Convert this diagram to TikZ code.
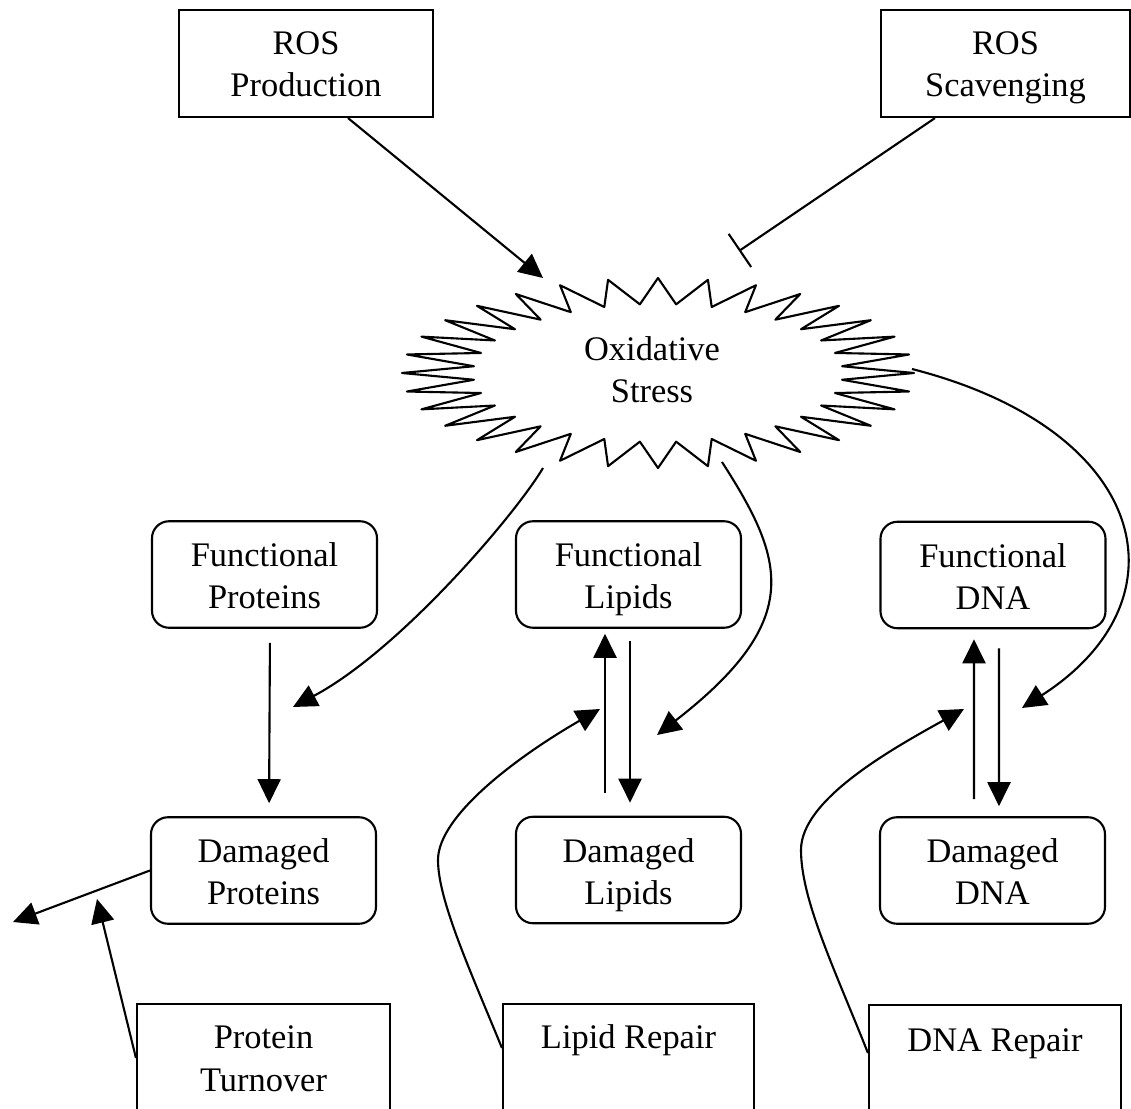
\documentclass[tikz,border=0pt]{standalone}
\usepackage{fontspec}
\setmainfont{Liberation Serif}
\usepackage{tikz}
\usetikzlibrary{arrows.meta,positioning,calc}
\tikzset{
  srcbox/.style  = {draw, rectangle, line width=0.6pt, inner sep=0pt,
                    text height=0.87cm, text depth=0.20cm, align=center},
  poolbox/.style = {draw, rectangle, rounded corners=0.17cm, line width=0.6pt,
                    inner sep=0pt, minimum width=2.25cm,
                    text height=0.875cm, text depth=0.19cm, align=center},
  repbox/.style  = {draw, rectangle, line width=0.6pt, anchor=north,
                    inner ysep=0pt, text depth=0.8cm, align=center},
  sig/.style     = {-{Triangle[length=0.24cm,width=0.23cm]}, line width=0.6pt},
  inhib/.style   = {-{Bar[width=0.4cm,line width=0.6pt]}, line width=0.6pt},
}
\begin{document}
\begin{tikzpicture}[x=1cm,y=1cm,font={\fontsize{9.8pt}{12pt}\selectfont}]
\useasboundingbox (0,0) rectangle (11.31,-11.09);
% sources of ROS
\node[srcbox, minimum width=2.54cm] (prod) at (3.06,-0.635) {ROS\\Production};
\node[srcbox, minimum width=2.49cm] (scav) at (10.055,-0.635) {ROS\\Scavenging};
% oxidative stress burst
\coordinate (burst) at (6.58,-3.73);
\node[align=center, anchor=base] (stress) at (6.52,-4.03) {Oxidative\\Stress};
\draw[line width=0.6pt, line join=round, shift={(burst)}] (0:2.56 and 0.95)
  \foreach \k in {1,...,32} { -- ({\k*11.25-5.625}:1.85 and 0.69) -- ({\k*11.25}:2.56 and 0.95) } -- cycle;
% functional and damaged pools
\node[poolbox] (fprot) at (2.645,-5.745) {Functional\\Proteins};
\node[poolbox] (flip)  at (6.285,-5.745) {Functional\\Lipids};
\node[poolbox] (fdna)  at (9.93,-5.75)   {Functional\\DNA};
\node[poolbox] (dprot) at (2.635,-8.705) {Damaged\\Proteins};
\node[poolbox] (dlip)  at (6.285,-8.70)  {Damaged\\Lipids};
\node[poolbox] (ddna)  at (9.925,-8.705) {Damaged\\DNA};
% repair boxes, cut by the bottom edge
\node[repbox, minimum width=2.53cm, text height=0.87cm] (turn) at (2.635,-10.03) {Protein\\Turnover};
\node[repbox, minimum width=2.51cm, text height=0.44cm] (lrep) at (6.285,-10.03) {Lipid Repair};
\node[repbox, minimum width=2.52cm, text height=0.46cm] (drep) at (9.95,-10.04)  {DNA Repair};
% free ends of connectors
\coordinate (prodtip)  at (5.43,-2.78);
\coordinate (scavbar)  at (7.39,-2.51);
\coordinate (stressbl) at (5.43,-4.68);
\coordinate (stressbm) at (7.22,-4.62);
\coordinate (stressr)  at (9.12,-3.69);
\coordinate (protdmg)  at (2.93,-7.07);
\coordinate (lipdmg)   at (6.57,-7.35);
\coordinate (dnadmg)   at (10.22,-7.08);
\coordinate (liprep)   at (6.00,-7.09);
\coordinate (dnarep)   at (9.64,-7.09);
\coordinate (turnend)  at (0.97,-8.99);
\coordinate (protout)  at (0.13,-9.22);
% production and scavenging
\draw[sig] ([xshift=0.42cm]prod.south) -- (prodtip);
\draw[inhib] ([xshift=-0.705cm]scav.south) -- (scavbar);
% damage from oxidative stress
\draw[sig] (stressbl) .. controls (5.15,-5.15) and (4.00,-6.50) .. (protdmg);
\draw[sig] (stressbm) .. controls (7.85,-5.60) and (8.05,-6.20) .. (lipdmg);
\draw[sig] (stressr) .. controls (11.50,-4.30) and (11.90,-6.00) .. (dnadmg);
% functional <-> damaged
\draw[sig, shorten <=0.14cm, shorten >=0.13cm] ([xshift=0.055cm]fprot.south) -- ([xshift=0.055cm]dprot.north);
\draw[sig, shorten <=0.23cm, shorten >=0.05cm] ([xshift=-0.235cm]dlip.north) -- ([xshift=-0.235cm]flip.south);
\draw[sig, shorten <=0.12cm, shorten >=0.13cm] ([xshift=0.015cm]flip.south) -- ([xshift=0.015cm]dlip.north);
\draw[sig, shorten <=0.17cm, shorten >=0.10cm] ([xshift=-0.185cm]ddna.north) -- ([xshift=-0.19cm]fdna.south);
\draw[sig, shorten <=0.19cm, shorten >=0.10cm] ([xshift=0.06cm]fdna.south) -- ([xshift=0.065cm]ddna.north);
% repair loops
\draw[sig] ([yshift=-0.45cm]lrep.north west) .. controls (4.70,-9.70) and (4.38,-9.00) .. (4.38,-8.60)
  .. controls (4.38,-8.15) and (5.20,-7.55) .. (liprep);
\draw[sig] ([yshift=-0.49cm]drep.north west) .. controls (8.35,-9.70) and (8.01,-9.00) .. (8.01,-8.50)
  .. controls (8.01,-8.00) and (8.90,-7.50) .. (dnarep);
% protein turnover
\draw[sig] (dprot.west) -- (protout);
\draw[sig] ([yshift=-0.55cm]turn.north west) -- (turnend);
\end{tikzpicture}
\end{document}
